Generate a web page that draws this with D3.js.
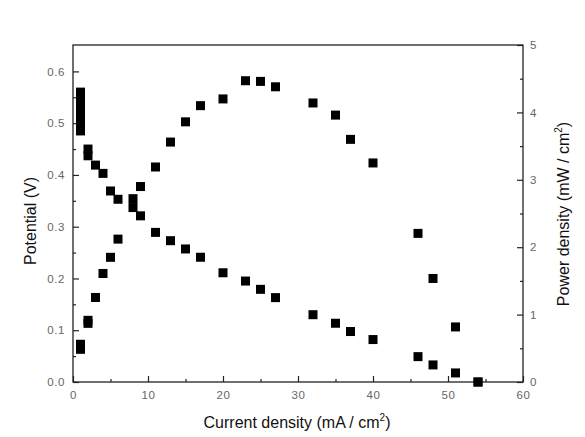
<!DOCTYPE html>
<html>
<head>
<meta charset="utf-8">
<script src="https://cdn.jsdelivr.net/npm/d3@7"></script>
<style>
  body { margin: 0; background: #fff; }
  .tick text { font-family: Arial, "Liberation Sans", sans-serif; font-size: 11.5px; fill: #666; letter-spacing: 0.6px; }
  .title { font-family: Arial, "Liberation Sans", sans-serif; font-size: 16px; fill: #111; }
</style>
</head>
<body>
<div class="container"></div>
<script>
const WIDTH = 585;
const HEIGHT = 437;
const MARGIN = {top: 45, right: 62, bottom: 55, left: 73};

// current density (mA/cm2) for each measured point
var current = [1, 1, 1, 1, 1, 1, 2, 2, 3, 4, 5, 6, 8, 9, 11, 13, 15, 17, 20, 23, 25, 27, 32, 35, 37, 40, 46, 48, 51, 54];
// potential (V)
var potential = [0.56, 0.545, 0.53, 0.515, 0.50, 0.485, 0.45, 0.437, 0.419, 0.403, 0.369, 0.353, 0.337, 0.321, 0.289, 0.273, 0.257, 0.241, 0.211, 0.195, 0.179, 0.163, 0.130, 0.1135, 0.0975, 0.082, 0.049, 0.033, 0.0175, 0.0];
// power density (mW/cm2)
var power = [0.56, 0.545, 0.53, 0.515, 0.50, 0.485, 0.915, 0.87, 1.254, 1.61, 1.85, 2.12, 2.72, 2.9, 3.19, 3.56, 3.86, 4.10, 4.20, 4.47, 4.46, 4.38, 4.14, 3.96, 3.60, 3.25, 2.205, 1.536, 0.817, 0.0];

var xTicks = [0, 10, 20, 30, 40, 50, 60];
var leftTicks = [0, 0.1, 0.2, 0.3, 0.4, 0.5, 0.6];
var rightTicks = [0, 1, 2, 3, 4, 5];

var translate = function(x, y){
  return "translate(" + x + "," + y + ")";
};

var W = WIDTH - MARGIN.left - MARGIN.right;
var H = HEIGHT - MARGIN.top - MARGIN.bottom;

var svg = d3.select('.container').append('svg')
  .attr('width', WIDTH)
  .attr('height', HEIGHT);

var xScale = d3.scaleLinear().domain([0, 60]).range([0, W]);
var yLeft = d3.scaleLinear().domain([0, 0.651]).range([H, 0]);
var yRight = d3.scaleLinear().domain([0, 5]).range([H, 0]);

var g = svg.append('g').attr('transform', translate(MARGIN.left, MARGIN.top));

// frame
g.append('rect')
  .attr('width', W).attr('height', H)
  .attr('fill', 'none').attr('stroke', '#222').attr('stroke-width', 1.3);

// minor ticks (inward)
var minor = function(axis, vals){
  return axis.tickValues(vals).tickSize(-3).tickFormat('');
};
g.append('g').attr('transform', translate(0, H))
  .call(minor(d3.axisBottom(xScale), d3.range(5, 60, 10)));
g.append('g')
  .call(minor(d3.axisLeft(yLeft), [0.05, 0.15, 0.25, 0.35, 0.45, 0.55]));
g.append('g').attr('transform', translate(W, 0))
  .call(minor(d3.axisRight(yRight), [0.5, 1.5, 2.5, 3.5, 4.5]));

// major ticks
g.append('g').attr('transform', translate(0, H))
  .call(d3.axisBottom(xScale).tickValues(xTicks).tickSize(-6).tickPadding(9).tickFormat(d3.format('d')));
g.append('g')
  .call(d3.axisLeft(yLeft).tickValues(leftTicks).tickSize(-6).tickPadding(8).tickFormat(d3.format('.1f')));
g.append('g').attr('transform', translate(W, 0))
  .call(d3.axisRight(yRight).tickValues(rightTicks).tickSize(-6).tickPadding(7).tickFormat(d3.format('d')));

g.selectAll('.domain').remove();
g.selectAll('.tick line').attr('stroke', '#222').attr('stroke-width', 1.2);

// markers
var S = 9;
g.selectAll('rect.pot').data(current).enter().append('rect')
  .attr('class', 'pot')
  .attr('x', function(d){ return xScale(d) - S / 2; })
  .attr('y', function(d, i){ return yLeft(potential[i]) - S / 2; })
  .attr('width', S).attr('height', S).attr('fill', '#000');

g.selectAll('rect.pow').data(current).enter().append('rect')
  .attr('class', 'pow')
  .attr('x', function(d){ return xScale(d) - S / 2; })
  .attr('y', function(d, i){ return yRight(power[i]) - S / 2; })
  .attr('width', S).attr('height', S).attr('fill', '#000');

// axis titles
var bx = svg.append('text').attr('class', 'title')
  .attr('x', 297).attr('y', 428)
  .attr('text-anchor', 'middle');
bx.append('tspan').text('Current density (mA / cm');
bx.append('tspan').attr('dy', -7).attr('font-size', 10).text('2');
bx.append('tspan').attr('dy', 7).text(')');

svg.append('text').attr('class', 'title')
  .attr('transform', translate(36, 221) + ' rotate(-90)')
  .attr('text-anchor', 'middle')
  .text('Potential (V)');

var ry = svg.append('text').attr('class', 'title')
  .attr('transform', translate(569, 214) + ' rotate(-90)')
  .attr('text-anchor', 'middle');
ry.append('tspan').text('Power density (mW / cm');
ry.append('tspan').attr('dy', -7).attr('font-size', 10).text('2');
ry.append('tspan').attr('dy', 7).text(')');
</script>
</body>
</html>
